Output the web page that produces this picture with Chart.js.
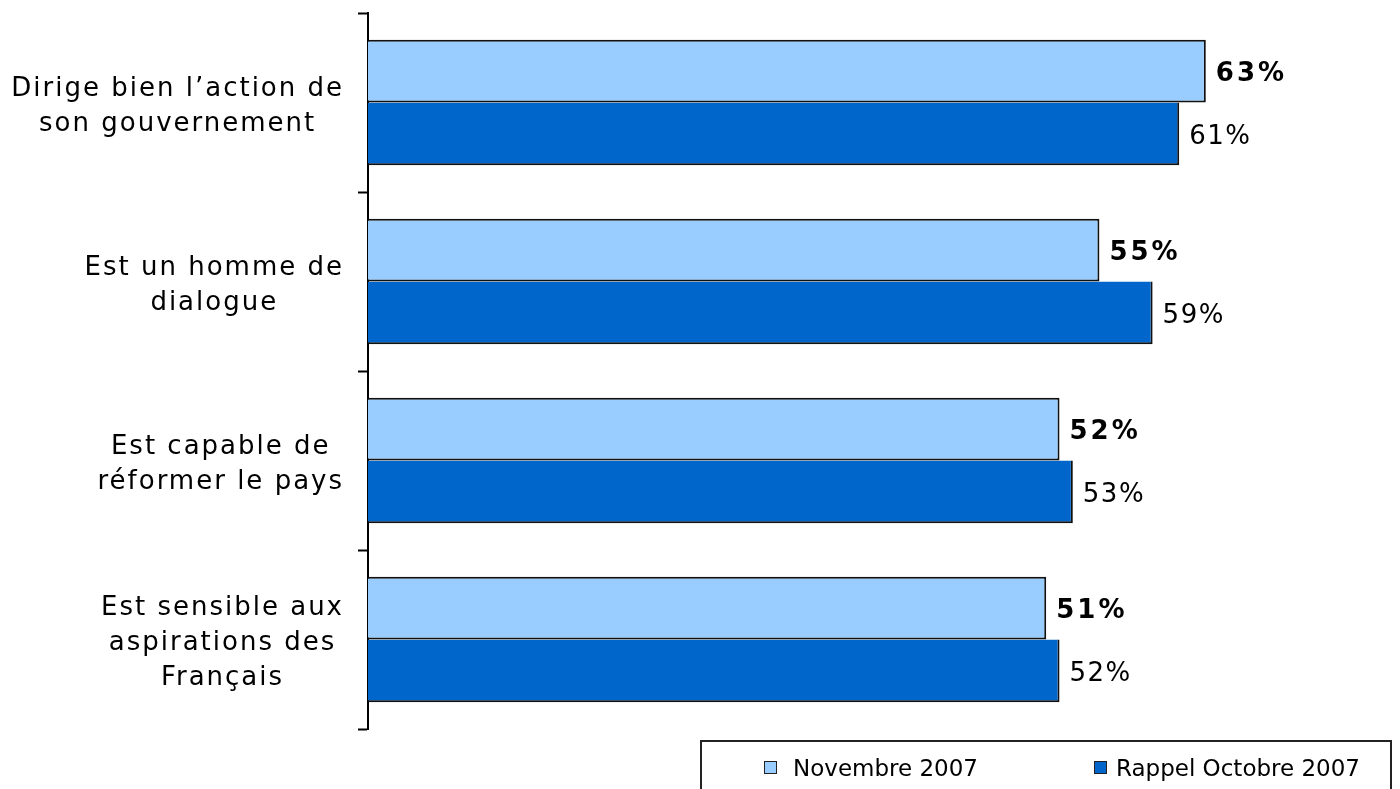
<!DOCTYPE html>
<html>
<head>
<meta charset="utf-8">
<script src="https://cdn.jsdelivr.net/npm/chart.js@4.4.0/dist/chart.umd.min.js"></script>
<style>
  body { margin: 0; background: #fff; }
  #wrap { position: relative; width: 1400px; height: 789px; }
  #legend {
    position: absolute; left: 700px; top: 740px; width: 692px; height: 60px;
    border: 2px solid #222; box-sizing: border-box;
    font: 23px "DejaVu Sans"; color: #000;
  }
  .item { position: absolute; top: 12px; line-height: 28px; white-space: nowrap; }
  .box { display: inline-block; width: 11px; height: 11px; border: 1.5px solid #222; vertical-align: middle; margin-top: -4px; }
</style>
</head>
<body>
<div id="wrap">
  <canvas id="chart" width="1400" height="789"></canvas>
  <div id="legend"></div>
</div>
<script>
const categories = [
  ["Dirige bien l’action de", "son gouvernement"],
  ["Est un homme de", "dialogue"],
  ["Est capable de", "réformer le pays"],
  ["Est sensible aux", "aspirations des", "Français"]
];
const seriesNames = ["Novembre 2007", "Rappel Octobre 2007"];
const nov2007 = [63, 55, 52, 51];
const oct2007 = [61, 59, 53, 52];
const seriesColors = ['#99CCFF', '#0066CC'];

Chart.defaults.font.family = '"DejaVu Sans"';

// legend in a framed box under the chart
const legend = document.getElementById('legend');
const legendPos = [{ left: 62, gap: 16 }, { left: 392, gap: 9 }];
seriesNames.forEach((name, i) => {
  const item = document.createElement('span');
  item.className = 'item';
  item.style.left = legendPos[i].left + 'px';
  const sw = document.createElement('span');
  sw.className = 'box';
  sw.style.background = seriesColors[i];
  sw.style.marginRight = legendPos[i].gap + 'px';
  item.appendChild(sw);
  item.appendChild(document.createTextNode(name));
  legend.appendChild(item);
});

// category text and value labels
const labelPlugin = {
  id: 'labels',
  afterDatasetsDraw(chart) {
    const ctx = chart.ctx;
    const yScale = chart.scales.y;
    ctx.save();
    ctx.fillStyle = '#000';
    ctx.textBaseline = 'middle';

    ctx.font = '26px "DejaVu Sans"';
    ctx.letterSpacing = '2px';
    ctx.textAlign = 'center';
    const lineH = 35;
    categories.forEach((lines, i) => {
      const cy = yScale.getPixelForValue(i) + 4;
      const block = Math.max(...lines.map(l => ctx.measureText(l).width));
      const cx = chart.chartArea.left - 24 - block / 2;
      lines.forEach((l, j) => {
        ctx.fillText(l, cx, cy + (j - (lines.length - 1) / 2) * lineH);
      });
    });

    ctx.textAlign = 'left';
    chart.data.datasets.forEach((ds, di) => {
      const meta = chart.getDatasetMeta(di);
      ctx.font = (di === 0 ? 'bold ' : '') + '26px "DejaVu Sans"';
      ctx.letterSpacing = di === 0 ? '3px' : '1.5px';
      meta.data.forEach((bar, i) => {
        ctx.fillText(ds.data[i] + '%', bar.x + 10, bar.y + 3);
      });
    });
    ctx.restore();
  }
};

new Chart(document.getElementById('chart'), {
  type: 'bar',
  data: {
    labels: categories,
    datasets: [
      { label: seriesNames[0], data: nov2007, backgroundColor: seriesColors[0],
        borderWidth: { top: 2, right: 2, bottom: 2, left: 0 } },
      { label: seriesNames[1], data: oct2007, backgroundColor: seriesColors[1],
        borderWidth: { top: 0, right: 2, bottom: 2, left: 0 } }
    ].map(d => Object.assign(d, {
      borderColor: '#111', barPercentage: 1, categoryPercentage: 0.7
    }))
  },
  options: {
    indexAxis: 'y',
    responsive: false,
    animation: false,
    layout: { padding: { left: 358, right: 8, top: 13, bottom: 60 } },
    plugins: { legend: { display: false }, tooltip: { enabled: false } },
    scales: {
      x: { display: false, min: 0, max: 77 },
      y: {
        grid: { offset: true, drawOnChartArea: false, drawTicks: true, tickLength: 10, tickColor: '#000', tickWidth: 2 },
        border: { display: true, color: '#000', width: 2 },
        ticks: { display: false }
      }
    }
  },
  plugins: [labelPlugin]
});
</script>
</body>
</html>
